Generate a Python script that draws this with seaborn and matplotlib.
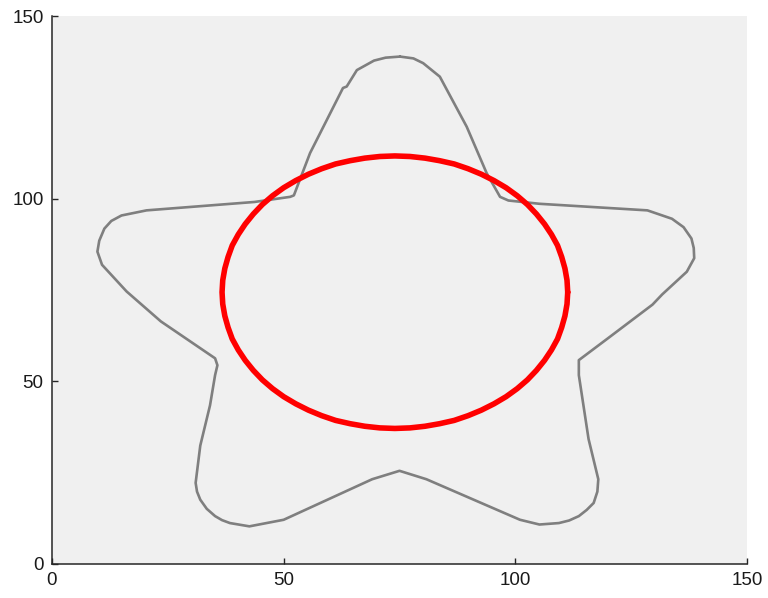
import matplotlib
matplotlib.use("Agg")
import matplotlib.pyplot as plt
import seaborn as sns
import pandas as pd

# Star-shaped object outline (data coords)
star_x = [75.1, 78.0, 80.1, 83.7, 89.5, 93.8, 96.7, 98.5, 105.2, 128.5, 133.8, 136.3,
          138.0, 138.5, 138.6, 137.0, 131.7, 129.6, 120.0, 113.7, 113.7, 115.8, 117.9,
          117.7, 116.9, 115.4, 113.7, 111.6, 109.4, 105.2, 101.0, 80.8, 75.0, 69.1,
          50.0, 42.6, 38.4, 36.7, 35.2, 33.4, 32.0, 31.3, 31.0, 32.0, 34.1,
          35.2, 35.7, 35.2, 23.5, 16.1, 10.8, 9.8, 10.2, 11.3, 12.8, 15.0, 20.4, 43.7,
          51.4, 52.2, 55.7, 62.8, 63.6, 65.8, 69.5, 72.0, 75.1]
star_y = [138.9, 138.4, 137.1, 133.4, 119.7, 107.0, 100.5, 99.5, 98.6, 96.8, 94.5, 92.2,
          89.1, 86.5, 83.7, 80.0, 73.8, 71.0, 61.8, 55.8, 51.7, 34.2, 23.2,
          19.8, 16.7, 14.8, 13.1, 11.9, 11.2, 10.8, 12.1, 23.2, 25.5, 23.2,
          12.1, 10.3, 11.2, 12.0, 13.1, 15.1, 17.6, 19.8, 22.2, 32.4, 43.4,
          51.7, 54.4, 56.3, 66.4, 74.6, 81.9, 85.5, 88.5, 91.8, 93.9, 95.4, 96.8, 99.1,
          100.5, 100.9, 112.5, 130.3, 130.7, 135.2, 137.8, 138.6, 138.9]

# Red contour points
contour_x = [111.3, 111.15, 110.7, 110.0, 109.1, 107.8, 106.3, 104.55, 102.6, 100.4,
             98.0, 95.4, 92.65, 89.8, 86.8, 83.65, 80.5, 77.25, 74.0,
             70.75, 67.5, 64.35, 61.2, 58.2, 55.35, 52.6, 50.0, 47.6, 45.4,
             43.45, 41.7, 40.2, 38.9, 38.0, 37.3, 36.85, 36.7,
             36.85, 37.3, 38.0, 38.9, 40.2, 41.7, 43.45, 45.4, 47.6, 50.0,
             52.6, 55.35, 58.2, 61.2, 64.35, 67.5, 70.75, 74.0,
             77.25, 80.5, 83.65, 86.8, 89.8, 92.65, 95.4, 98.0, 100.4, 102.6,
             104.55, 106.3, 107.8, 109.1, 110.0, 110.7, 111.15, 111.3]
contour_y = [74.4, 77.65, 80.9, 84.05, 87.2, 90.2, 93.05, 95.8, 98.4, 100.8,
             103.0, 104.95, 106.7, 108.2, 109.5, 110.4, 111.1, 111.55, 111.7,
             111.55, 111.1, 110.4, 109.5, 108.2, 106.7, 104.95, 103.0, 100.8, 98.4,
             95.8, 93.05, 90.2, 87.2, 84.05, 80.9, 77.65, 74.4,
             71.15, 67.9, 64.75, 61.6, 58.6, 55.75, 53.0, 50.4, 48.0, 45.8,
             43.85, 42.1, 40.6, 39.3, 38.4, 37.7, 37.25, 37.1,
             37.25, 37.7, 38.4, 39.3, 40.6, 42.1, 43.85, 45.8, 48.0, 50.4,
             53.0, 55.75, 58.6, 61.6, 64.75, 67.9, 71.15, 74.4]

ticks = [0, 50, 100, 150]
tick_labels = ["0", "50", "100", "150"]

sns.set_theme(style="ticks")
plt.rcParams["font.family"] = ["Liberation Sans", "DejaVu Sans"]

star = pd.DataFrame({"x": star_x, "y": star_y})
contour = pd.DataFrame({"x": contour_x, "y": contour_y})

fig = plt.figure(figsize=(7.68, 5.98), dpi=100)
ax = fig.add_axes([0.0677, 0.0569, 0.905, 0.9163])
ax.set_facecolor("#f0f0f0")

sns.lineplot(data=star, x="x", y="y", sort=False, estimator=None, color="#7f7f7f",
             linewidth=1.9, ax=ax)
sns.lineplot(data=contour, x="x", y="y", sort=False, estimator=None, color="#ff0000",
             linewidth=4.0, ax=ax)

ax.set_xlim(0, 150)
ax.set_ylim(0, 150)
ax.set_xticks(ticks)
ax.set_xticklabels(tick_labels)
ax.set_yticks(ticks)
ax.set_yticklabels(tick_labels)
ax.set_xlabel("")
ax.set_ylabel("")
for s in ["top", "right"]:
    ax.spines[s].set_visible(False)
for s in ["left", "bottom"]:
    ax.spines[s].set_color("#262626")
    ax.spines[s].set_linewidth(1.1)
ax.tick_params(direction="in", length=4, width=1.0, colors="#262626",
               labelsize=13.5, labelcolor="#1a1a1a", pad=6)

fig.savefig("out.png", dpi=100)
